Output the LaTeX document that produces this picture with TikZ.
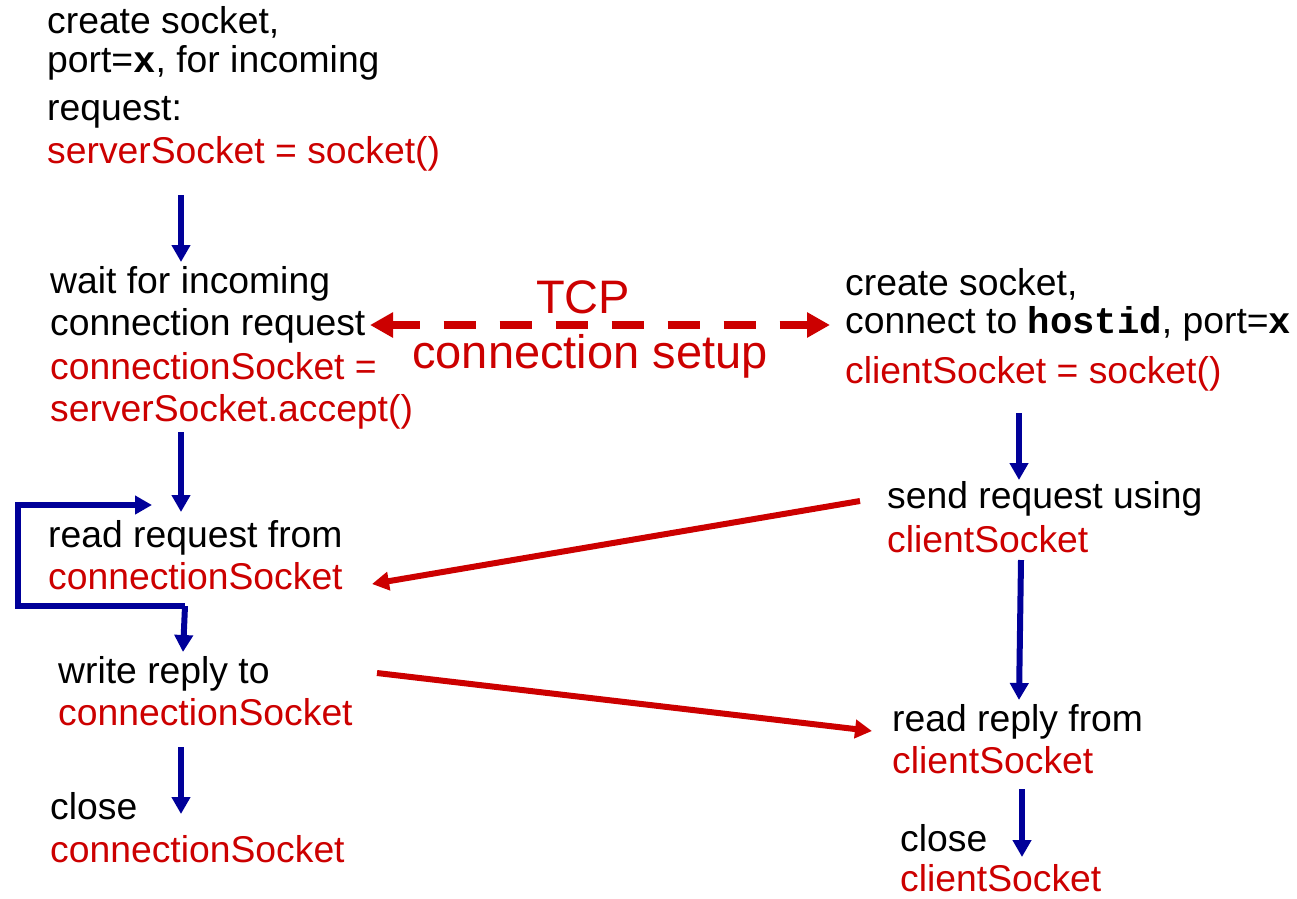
\documentclass[tikz,border=0pt]{standalone}
\usepackage{fontspec}
\setmainfont{Liberation Sans}
\setmonofont{Liberation Mono}
\usetikzlibrary{arrows.meta}
\definecolor{cred}{RGB}{204,0,0}
\definecolor{cblue}{RGB}{0,0,153}
\newcommand{\cm}[1]{\texttt{\bfseries #1}}
\newcommand{\rt}[1]{\textcolor{cred}{#1}}
\begin{document}
\begin{tikzpicture}[x=1pt,y=-1pt,
  txt/.style={anchor=base west, inner sep=0pt, align=left, font=\fontsize{37.3}{42}\selectfont},
  big/.style={anchor=base, inner sep=0pt, text=cred, font=\fontsize{47}{55}\selectfont},
  flow/.style={draw=cblue, line width=6pt, -{Triangle[length=17pt,width=18pt]}},
  msg/.style={draw=cred, line width=6pt, -{Triangle[length=17pt,width=18pt]}},
  setup/.style={draw=cred, line width=8.5pt, dash pattern=on 32pt off 24pt, dash phase=4pt,
    {Triangle[length=23pt,width=24pt]}-{Triangle[length=23pt,width=24pt]}},
]
\useasboundingbox (0,0) rectangle (1297,898);

% server side (anchors at the baseline of the last line)
\node[txt] (sA) at (47,163) {create socket,\\[-3pt] port=\cm{x}, for incoming\\[6pt] request:\\[1pt] \rt{serverSocket = socket()}};
\node[txt] (sB) at (50,421) {wait for incoming\\ connection request\\[2pt] \rt{connectionSocket =}\\ \rt{serverSocket.accept()}};
\node[txt] (sC) at (48,589) {read request from\\ \rt{connectionSocket}};
\node[txt] (sD) at (58,725) {write reply to\\ \rt{connectionSocket}};
\node[txt] (sE) at (50,862) {close\\[1pt] \rt{connectionSocket}};

% client side
\node[txt] (cF) at (845,383) {create socket,\\[-4pt] connect to \cm{hostid}, port=\cm{x}\\[8pt] \rt{clientSocket = socket()}};
\node[txt] (cG) at (887,552) {send request using\\[2pt] \rt{clientSocket}};
\node[txt] (cH) at (892,773) {read reply from\\ \rt{clientSocket}};
\node[txt] (cI) at (900,891) {close\\[-2pt] \rt{clientSocket}};

% TCP label
\node[big] (tcp) at (583,313) {TCP};
\node[big] (setup) at (590,368) {connection setup};

% coordinates for connector ends
\coordinate (a1s) at (181,195); \coordinate (a1e) at (181,262);
\coordinate (a2s) at (181,432); \coordinate (a2e) at (181,512);
\coordinate (lp)  at (185,606); \coordinate (a3e) at (183,652);
\coordinate (lc1) at (18,606);  \coordinate (lc2) at (18,505); \coordinate (lpe) at (152,505);
\coordinate (a4s) at (181,747); \coordinate (a4e) at (181,814);
\coordinate (b1s) at (1019,413); \coordinate (b1e) at (1019,480);
\coordinate (b2s) at (1021,560); \coordinate (b2e) at (1019,700);
\coordinate (b3s) at (1022,789); \coordinate (b3e) at (1022,857);
\coordinate (r1s) at (860,501); \coordinate (r1e) at (372,584);
\coordinate (r2s) at (377,673); \coordinate (r2e) at (872,731);
\coordinate (dl) at (370,325); \coordinate (dr) at (830,325);

% blue flow arrows
\draw[flow] (a1s) -- (a1e);
\draw[flow] (a2s) -- (a2e);
\draw[flow] (lp) -- (a3e);
\draw[flow] (lp) -- (lc1) -- (lc2) -- (lpe);
\draw[flow] (a4s) -- (a4e);
\draw[flow] (b1s) -- (b1e);
\draw[flow] (b2s) -- (b2e);
\draw[flow] (b3s) -- (b3e);

% red messages
\draw[msg] (r1s) -- (r1e);
\draw[msg] (r2s) -- (r2e);
\draw[setup] (dl) -- (dr);
\end{tikzpicture}
\end{document}
